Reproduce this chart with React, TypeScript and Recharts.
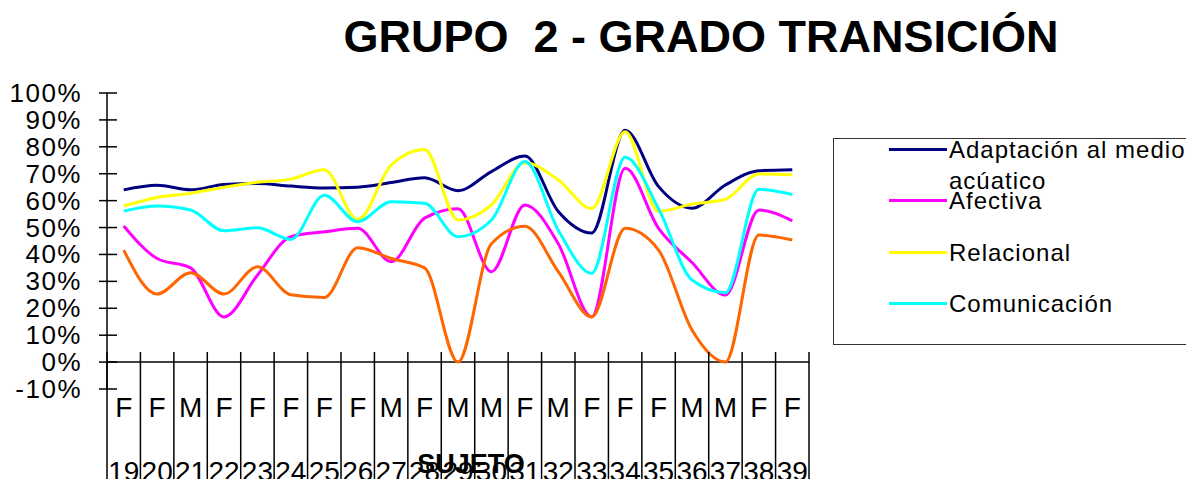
import { LineChart, Line, XAxis, YAxis, ReferenceLine, Legend } from 'recharts'

const sujetos = [19, 20, 21, 22, 23, 24, 25, 26, 27, 28, 29, 30, 31, 32, 33, 34, 35, 36, 37, 38, 39]
const sexos = ['F', 'F', 'M', 'F', 'F', 'F', 'F', 'F', 'M', 'F', 'M', 'M', 'F', 'M', 'F', 'F', 'F', 'M', 'M', 'F', 'F']

// valores en %
const adaptacion = [64, 65.7, 64, 66, 66.4, 65.4, 64.7, 65, 66.7, 68.5, 63.7, 70.8, 76.6, 56, 48, 86.2, 65.2, 57.2, 65.8, 71.1, 71.5]
const afectiva = [50.6, 38.5, 35, 16.8, 32.3, 46.6, 48.4, 49.7, 37.3, 53.5, 57, 33.6, 58.4, 44, 16.8, 72, 49.7, 37, 24.9, 56.5, 52.5]
const relacional = [58, 61.2, 62.7, 65, 66.8, 68, 71.5, 53, 73.2, 79, 52.8, 58.4, 74.1, 67.7, 57.1, 85.6, 56, 58.7, 60.5, 69.9, 69.6]
const comunicacion = [56.1, 58, 56.5, 48.8, 49.9, 45.6, 62, 52.2, 59.6, 59, 46.6, 52.8, 74.5, 49, 33, 76.1, 57, 30.5, 25.8, 64.2, 62.3]
const serie5 = [41.6, 25.3, 33.2, 25.3, 35.4, 25, 24, 42.5, 38.5, 35, 0, 44, 50.5, 33.6, 16.8, 49.7, 41.6, 11.9, 0, 47.2, 45.4]

const yTicks = [-10, 0, 10, 20, 30, 40, 50, 60, 70, 80, 90, 100]

const data = sujetos.map((s, i) => ({
  sujeto: s,
  sexo: sexos[i],
  adaptacion: adaptacion[i],
  afectiva: afectiva[i],
  relacional: relacional[i],
  comunicacion: comunicacion[i],
  serie5: serie5[i],
}))

const FONT = "'Liberation Sans', Arial, sans-serif"
const W = 1196
const H = 479
const PLOT_LEFT = 107
const PLOT_RIGHT = 809
const BAND = (PLOT_RIGHT - PLOT_LEFT) / sujetos.length

const SujetoTick = (props: any) => {
  const { x, y, payload } = props
  const i = payload.index
  const last = i === sujetos.length - 1
  return (
    <g>
      <line x1={x - BAND / 2} x2={x - BAND / 2} y1={y - 37} y2={y + 100} stroke="#000" strokeWidth={1.5} />
      {last && <line x1={x + BAND / 2} x2={x + BAND / 2} y1={y - 37} y2={y + 100} stroke="#000" strokeWidth={1.5} />}
      <text x={x} y={y + 18} textAnchor="middle" dominantBaseline="central" fontSize={28} fontFamily={FONT} fill="#000">
        {sexos[i]}
      </text>
      <text x={x} y={y + 82} textAnchor="middle" dominantBaseline="central" fontSize={28} fontFamily={FONT} fill="#000">
        {payload.value}
      </text>
    </g>
  )
}

const PctTick = (props: any) => {
  const { x, y, payload } = props
  return (
    <g>
      <line x1={x - 8} x2={x + 10} y1={y} y2={y} stroke="#000" strokeWidth={1.5} />
      <text x={x - 25} y={y} textAnchor="end" dominantBaseline="central" fontSize={26} letterSpacing={1.5} fontFamily={FONT} fill="#000">
        {`${payload.value}%`}
      </text>
    </g>
  )
}

const renderLegend = (props: any) => {
  const items = (props.payload || []).filter((p: any) => p.type !== 'none')
  return (
    <div
      style={{
        position: 'relative',
        width: 353,
        height: 207,
        boxSizing: 'border-box',
        borderTop: '1.5px solid #333',
        borderLeft: '1.5px solid #333',
        borderBottom: '1.5px solid #333',
        fontFamily: FONT,
      }}
    >
      {items.map((p: any, i: number) => (
        <div key={p.value}>
          <div style={{ position: 'absolute', left: 55, top: 10 + i * 51.5 - 1.5, width: 58, height: 3, background: p.color }} />
          <div
            style={{
              position: 'absolute',
              left: 115,
              top: 10 + i * 51.5 - 15.5,
              width: 245,
              fontSize: 24,
              letterSpacing: 1,
              lineHeight: '31px',
              color: '#000',
            }}
          >
            {p.value}
          </div>
        </div>
      ))}
    </div>
  )
}

export default function App() {
  return (
    <div style={{ position: 'absolute', left: 0, top: 0, width: W, height: H, background: '#fff', overflow: 'hidden' }}>
      <div
        style={{
          position: 'absolute',
          left: 301,
          top: 14,
          width: 800,
          textAlign: 'center',
          fontFamily: FONT,
          fontWeight: 'bold',
          fontSize: 45,
          lineHeight: '45px',
          whiteSpace: 'pre',
          color: '#000',
        }}
      >
        {'GRUPO  2 - GRADO TRANSICIÓN'}
      </div>
      <LineChart width={W} height={H} data={data} margin={{ top: 93, right: W - PLOT_RIGHT, bottom: 0, left: 0 }}>
        <XAxis
          dataKey="sujeto"
          scale="point"
          padding={{ left: BAND / 2, right: BAND / 2 }}
          height={H - 389}
          axisLine={false}
          tickLine={false}
          tickSize={0}
          tickMargin={0}
          interval={0}
          tick={(p: any) => <SujetoTick {...p} />}
          label={{
            value: 'SUJETO',
            position: 'insideBottom',
            offset: 6,
            dx: 13,
            style: { fontFamily: FONT, fontWeight: 'bold', fontSize: 27, fill: '#000' },
          }}
        />
        <YAxis
          type="number"
          width={PLOT_LEFT}
          domain={[-10, 100]}
          ticks={yTicks}
          interval={0}
          axisLine={{ stroke: '#000', strokeWidth: 1.5 }}
          tickLine={false}
          tickSize={0}
          tickMargin={0}
          tick={(p: any) => <PctTick {...p} />}
        />
        <ReferenceLine y={0} stroke="#000" strokeWidth={1.5} />
        <Legend
          layout="horizontal"
          align="center"
          verticalAlign="middle"
          width={353}
          height={207}
          itemSorter={null}
          wrapperStyle={{ left: 833, top: 138 }}
          content={renderLegend}
        />
        <Line type="monotone" dataKey="adaptacion" name="Adaptación al medio acúatico" stroke="#000080" strokeWidth={3} dot={false} isAnimationActive={false} />
        <Line type="monotone" dataKey="afectiva" name="Afectiva" stroke="#FF00FF" strokeWidth={3} dot={false} isAnimationActive={false} />
        <Line type="monotone" dataKey="relacional" name="Relacional" stroke="#FFFF00" strokeWidth={3} dot={false} isAnimationActive={false} />
        <Line type="monotone" dataKey="comunicacion" name="Comunicación" stroke="#00FFFF" strokeWidth={3} dot={false} isAnimationActive={false} />
        <Line type="monotone" dataKey="serie5" name="Serie 5" legendType="none" stroke="#FF6600" strokeWidth={3} dot={false} isAnimationActive={false} />
      </LineChart>
    </div>
  )
}
